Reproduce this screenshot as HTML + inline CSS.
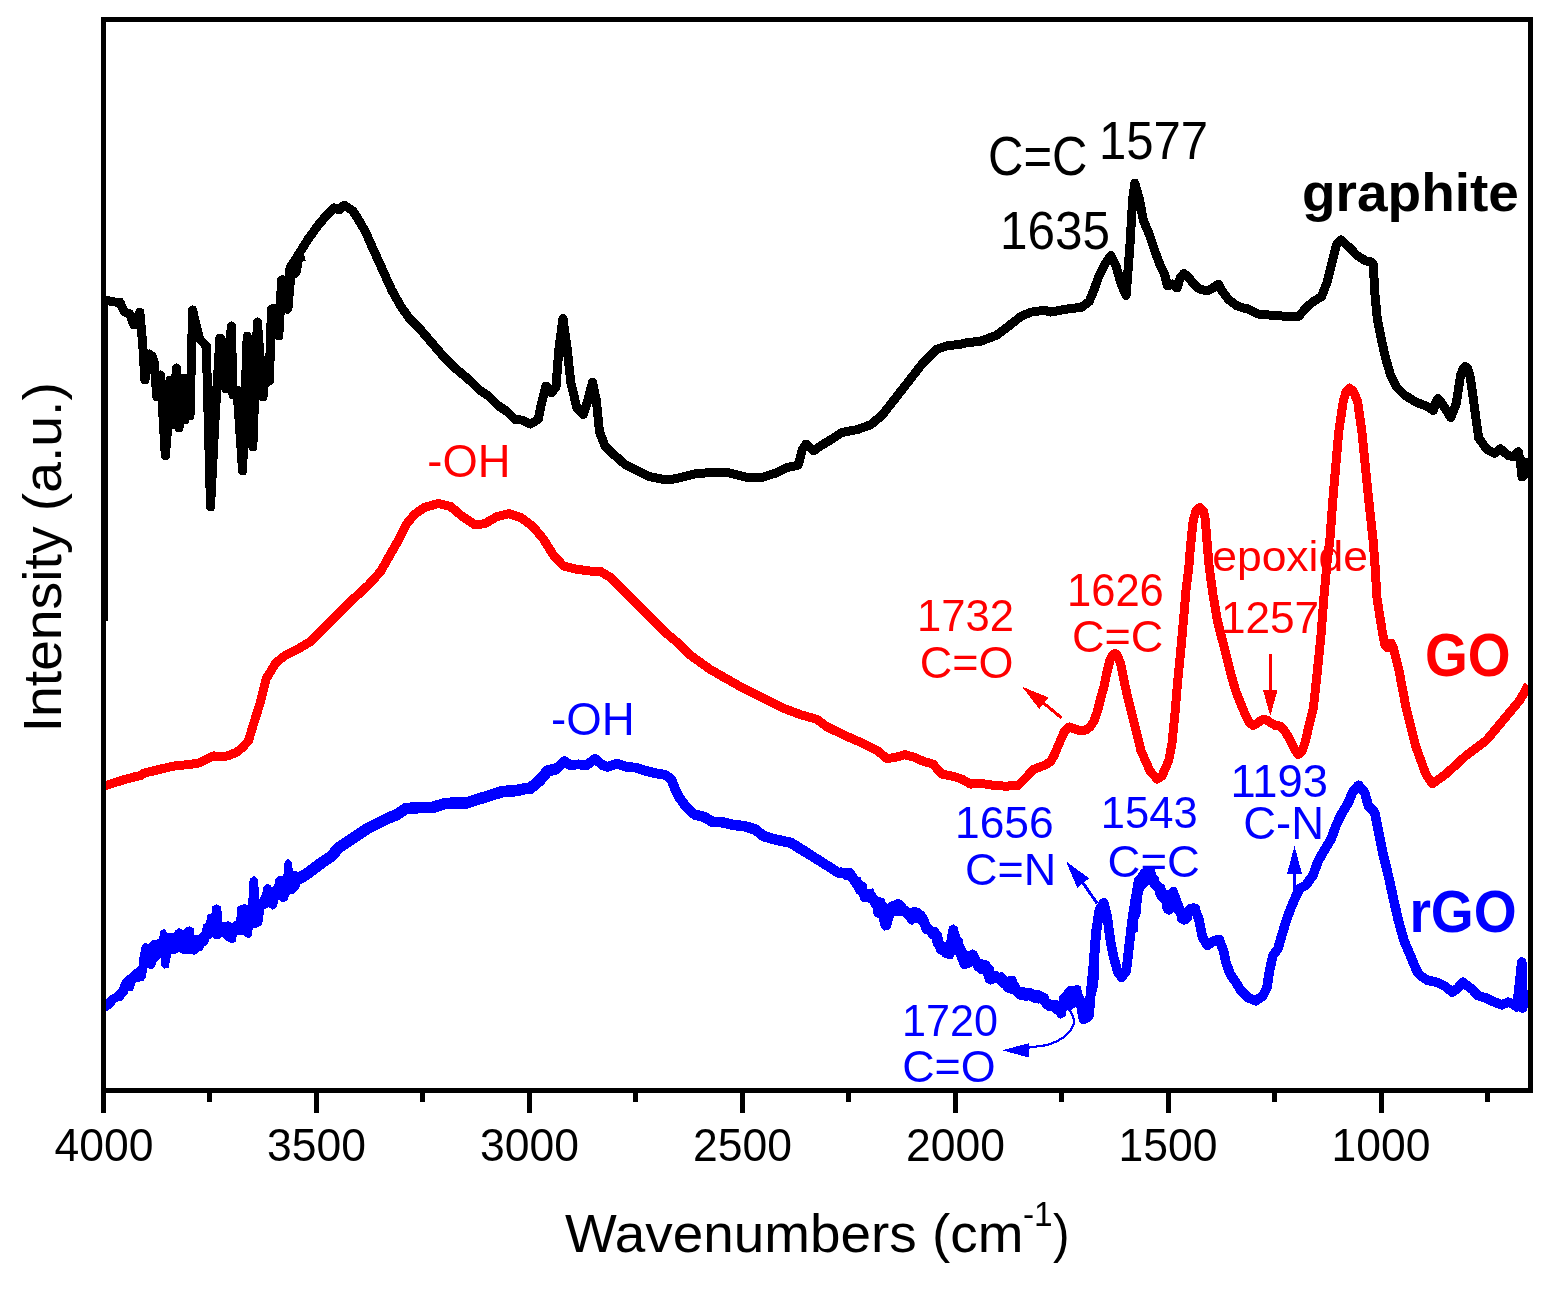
<!DOCTYPE html><html><head><meta charset="utf-8"><title>FTIR spectra</title><style>html,body{margin:0;padding:0;background:#fff;}svg{display:block;}</style></head><body>
<svg width="1552" height="1290" viewBox="0 0 1552 1290">
<rect x="0" y="0" width="1552" height="1290" fill="#fff"/>
<g fill="none" stroke-linejoin="round" stroke-linecap="butt" shape-rendering="crispEdges">
<polyline points="103.0,300.0 106.6,300.5 114.7,302.0 119.9,302.0 124.3,312.0 129.5,313.7 133.9,325.0 139.8,312.0 142.7,344.0 144.9,380.0 149.3,354.0 152.0,356.0 154.5,363.0 156.7,397.0 160.4,375.0 162.0,400.0 165.3,456.0 168.0,425.0 170.0,380.0 172.5,425.0 176.4,368.0 179.0,428.0 182.0,378.0 185.0,420.0 188.0,378.0 190.0,416.0 192.6,310.0 196.0,325.0 199.5,339.0 206.3,346.0 210.5,507.0 215.0,420.0 219.9,338.0 221.2,339.0 225.8,389.0 231.4,326.0 233.0,395.0 237.0,390.0 242.6,471.0 247.2,336.0 252.8,447.0 257.4,322.0 263.0,397.0 265.0,360.0 269.5,381.0 271.4,309.0 278.8,336.0 281.6,280.0 288.0,308.0 290.0,268.0 298.6,254.4 307.9,239.5 317.2,226.5 326.5,215.3 334.0,207.9 339.5,209.8 344.2,205.1 352.6,210.7 358.1,219.0 365.6,232.0 373.0,248.8 382.3,269.3 391.6,289.8 400.9,306.5 410.2,319.5 421.4,330.7 432.6,343.7 443.7,356.7 454.9,367.9 466.0,377.2 470.0,380.6 479.3,389.9 488.6,396.1 497.9,405.4 507.2,411.6 515.0,419.4 522.7,420.2 530.5,424.0 538.2,419.4 542.1,400.8 546.0,386.0 551.4,393.0 556.0,386.8 559.1,346.5 563.0,318.6 566.9,346.5 570.8,382.2 577.0,408.5 583.2,414.7 587.8,400.8 592.5,382.2 596.4,400.8 599.5,431.8 604.9,445.7 614.2,455.0 625.0,464.3 637.4,470.5 649.8,476.7 665.3,479.8 675.5,478.8 694.8,474.0 714.1,472.1 729.6,473.0 745.0,477.0 760.5,477.9 776.0,473.0 787.6,467.3 798.2,465.3 802.1,449.9 806.0,444.0 813.7,450.8 820.4,446.0 830.1,440.2 841.7,432.5 857.2,429.6 870.7,424.7 882.3,415.0 895.8,397.7 909.4,380.3 922.9,362.9 936.4,349.3 948.0,345.5 959.6,344.5 965.5,343.0 980.9,341.1 996.4,335.3 1008.0,326.6 1021.5,316.0 1031.2,312.1 1044.7,310.2 1050.5,312.1 1066.0,309.2 1081.5,307.3 1089.2,301.5 1094.0,289.9 1098.8,276.3 1104.6,264.7 1110.9,255.5 1116.2,266.7 1121.1,284.0 1126.1,295.5 1129.8,247.3 1132.7,199.0 1134.8,183.0 1139.4,199.0 1143.3,220.3 1149.1,233.8 1154.9,251.2 1160.7,266.7 1164.6,274.4 1167.5,286.0 1172.3,284.0 1177.1,287.9 1180.0,278.3 1183.9,273.4 1188.7,277.3 1193.6,284.0 1199.4,288.9 1207.1,290.8 1212.9,287.9 1218.7,284.0 1222.6,291.8 1228.4,299.5 1236.1,305.3 1243.8,308.2 1248.4,309.0 1258.8,314.2 1271.4,315.2 1286.0,316.3 1298.6,316.3 1307.0,306.9 1313.3,301.6 1321.6,296.4 1326.9,282.8 1332.1,261.9 1336.3,245.1 1341.1,239.9 1348.9,247.2 1357.2,255.6 1365.6,260.8 1370.8,261.9 1373.3,264.0 1374.7,291.9 1377.4,319.8 1381.6,340.7 1385.8,358.8 1390.7,375.6 1396.3,386.7 1404.7,395.1 1415.8,402.1 1427.0,406.3 1433.3,410.5 1436.0,402.0 1438.1,398.5 1440.5,401.0 1443.7,406.3 1450.7,417.5 1456.3,403.5 1460.5,375.6 1463.0,368.5 1465.3,366.5 1467.8,369.0 1470.2,377.0 1473.0,396.5 1475.8,417.5 1478.7,437.9 1486.3,448.8 1494.4,453.4 1500.4,448.8 1508.0,455.3 1513.4,456.9 1518.3,451.7 1520.5,463.4 1522.1,477.0 1524.8,474.3 1527.5,458.0" stroke="#000" stroke-width="9"/>
<polygon points="262.4,350.0 263.6,357.9 265.5,353.0 267.4,339.3 268.6,322.0 269.8,307.1 272.9,304.0 276.7,304.0 277.9,299.6 279.1,276.7 282.8,274.8 286.6,276.7 287.8,266.1 290.3,263.0 294.0,262.4 297.1,252.0 302.0,248.0 305.8,260.5 302.7,261.2 300.2,274.8 295.2,278.5 293.4,297.1 292.1,309.6 288.4,313.9 284.7,313.3 282.8,331.9 279.8,336.8 275.4,338.1 274.2,351.7 273.6,372.8 272.3,382.8 268.0,387.7 266.1,395.0 263.0,392.0" fill="#000" stroke="none"/>
<polyline points="104.0,786.0 111.6,783.7 123.2,779.9 134.8,776.8 141.0,775.5 144.1,773.0 152.2,771.2 163.8,768.3 175.4,765.7 187.0,764.8 198.6,763.1 206.7,759.0 213.7,755.9 220.6,757.0 227.6,755.9 236.9,752.1 242.7,747.2 248.5,740.8 253.8,723.2 260.0,703.3 266.3,678.5 276.2,662.4 286.1,654.9 298.5,648.7 310.9,641.3 323.3,628.9 338.2,614.0 353.1,599.1 368.0,585.5 380.4,571.8 390.3,554.4 398.1,540.8 406.1,524.7 414.2,514.6 424.3,507.5 438.4,503.5 450.5,506.5 462.6,516.6 474.7,524.7 484.8,523.7 496.9,516.6 509.0,513.6 521.0,517.6 533.1,526.7 543.2,538.8 553.3,554.9 563.4,566.0 575.5,569.0 589.6,571.0 599.7,571.0 609.8,577.1 621.9,589.2 636.0,603.3 650.1,617.4 664.2,631.5 676.3,641.6 688.4,653.7 693.9,657.8 710.2,669.4 726.4,678.7 745.0,689.2 763.5,698.4 782.1,707.7 800.6,714.7 816.9,719.3 826.1,726.3 842.4,734.4 860.9,742.5 877.7,750.9 886.8,758.6 895.8,757.3 904.8,754.7 913.8,757.1 924.1,761.6 933.1,764.1 937.0,768.7 942.2,774.1 953.8,776.4 962.8,779.6 970.5,784.1 979.5,783.1 992.4,785.2 1005.3,786.2 1018.2,785.4 1024.6,779.0 1033.7,769.3 1044.0,765.4 1050.4,762.0 1054.3,755.1 1059.4,742.9 1064.2,731.9 1069.1,727.0 1075.0,729.0 1080.7,731.0 1086.0,730.0 1090.0,727.0 1094.0,721.0 1097.5,711.0 1101.0,697.0 1104.0,686.5 1107.0,672.0 1110.0,660.0 1112.5,655.0 1115.0,653.4 1117.5,655.5 1120.5,663.3 1127.0,694.7 1134.0,722.6 1140.9,750.5 1150.2,771.4 1157.2,779.0 1162.0,776.0 1165.5,768.0 1168.7,760.5 1171.8,745.0 1174.9,714.0 1177.5,683.0 1180.6,652.0 1183.4,621.0 1186.0,590.0 1188.9,566.8 1190.2,549.7 1191.9,532.6 1193.3,520.0 1196.0,511.0 1199.9,507.5 1203.6,511.0 1205.4,520.0 1206.3,532.6 1207.7,549.7 1209.2,566.8 1211.5,583.8 1213.0,595.0 1217.5,621.0 1225.3,652.0 1233.3,683.0 1236.3,692.3 1242.4,707.9 1246.0,716.0 1249.0,722.0 1252.9,725.4 1256.5,724.0 1260.0,721.0 1263.4,719.4 1267.0,720.0 1270.0,722.5 1275.2,725.4 1280.0,726.0 1283.5,729.0 1287.8,736.0 1291.3,742.8 1294.8,749.8 1298.3,754.5 1302.0,751.0 1305.0,743.0 1309.8,722.0 1313.3,708.8 1317.3,671.6 1321.1,634.4 1323.9,597.2 1327.3,560.0 1329.8,540.5 1333.3,494.0 1338.7,432.0 1343.3,401.0 1346.0,392.0 1349.5,388.0 1353.0,391.0 1357.6,401.0 1361.9,432.0 1368.1,494.0 1373.1,540.5 1374.7,560.0 1376.9,597.2 1382.1,630.7 1385.0,645.0 1388.0,648.0 1391.0,643.0 1393.5,648.0 1399.2,671.6 1406.3,708.8 1415.6,746.0 1425.8,774.0 1432.3,784.0 1446.7,773.3 1466.7,755.0 1486.7,740.0 1503.3,720.0 1520.0,700.0 1528.3,685.0" stroke="#f00" stroke-width="9"/>
<polyline points="296.0,876.0 299.7,878.5 309.3,872.1 322.2,862.4 331.9,856.0 338.3,847.9 348.0,841.5 357.7,835.0 367.3,828.6 377.0,823.8 386.6,818.9 396.3,814.9 406.0,808.5 418.9,807.7 431.8,807.7 444.6,803.6 457.5,802.8 467.2,802.8 476.9,799.6 489.7,795.6 502.6,791.5 515.5,790.7 526.8,788.3 530.0,788.6 539.7,780.5 547.7,770.9 557.4,768.5" stroke="#00f" stroke-width="11.5"/>
<polyline points="539.7,780.5 547.7,770.9 557.4,768.5 564.6,761.2 570.3,765.2 578.3,764.4 586.4,765.2 595.2,758.8 602.5,765.2 607.3,766.9 617.0,763.6 626.6,766.9 636.3,767.7 646.0,770.9 655.6,773.3 665.3,774.9 671.0,778.9 675.0,788.6 679.8,798.3 686.3,807.1 694.3,814.4 704.0,816.8 712.0,821.6" stroke="#00f" stroke-width="9.8"/>
<polyline points="694.3,814.4 704.0,816.8 712.0,821.6 723.3,822.4 733.0,824.8 745.9,826.5 755.5,829.7 763.6,836.1 771.6,838.5 780.3,840.6 790.6,842.7 807.1,853.0" stroke="#00f" stroke-width="10.5"/>
<polyline points="790.6,842.7 807.1,853.0 823.6,863.3 838.0,872.6 849.4,872.6 856.6,883.9 863.8,894.2 871.0,895.3 877.2,906.6 882.4,913.8 886.5,924.1 891.6,906.6 898.9,904.5 906.1,912.8 912.3,919.0 917.4,912.8 922.6,917.9 926.7,928.2 935.0,933.4 939.1,943.7 945.3,952.0 949.4,954.0 953.1,930.3 956.6,941.6 959.7,952.0 964.8,964.3 973.1,955.1 978.2,966.4 985.5,965.4 989.6,978.8 996.8,976.7 1003.0,982.9 1011.2,980.8 1017.4,991.1 1027.7,993.2 1038.0,996.3 1040.0,996.6 1046.7,1003.3 1053.4,1005.9 1060.9,1012.6 1064.3,998.3 1070.2,991.6 1076.0,991.6 1080.2,1000.8 1083.6,1019.3 1088.6,1012.6 1091.1,990.8 1093.6,965.6 1096.1,932.1 1099.5,910.4 1103.7,902.8" stroke="#00f" stroke-width="10"/>
<polyline points="1093.6,965.6 1096.1,932.1 1099.5,910.4 1103.7,902.8 1107.0,915.4 1110.4,940.5 1113.7,957.3 1117.9,972.4 1121.8,977.4 1126.3,970.7 1128.8,948.9 1132.1,920.4 1135.5,898.6 1138.8,880.2 1143.9,875.2 1149.7,878.5 1157.3,886.9 1164.0,895.3 1168.2,908.7 1173.2,891.9 1177.4,903.7 1182.4,915.4 1184.9,918.7 1190.0,908.7 1195.0,908.7 1199.2,920.4 1202.5,937.2 1207.5,945.5 1214.2,940.5 1219.3,939.7 1223.4,950.6 1226.0,962.3 1230.1,974.0 1236.0,982.4 1241.0,990.8 1247.7,997.5 1256.1,1000.8 1262.8,995.8 1267.0,987.4 1269.5,970.7 1272.9,955.6 1277.9,948.9 1281.2,937.2 1286.3,920.4 1291.3,907.0 1296.3,895.3 1299.7,888.6 1306.1,885.0 1313.2,874.9 1318.2,860.8 1325.3,848.7 1331.3,838.6 1336.4,824.5 1342.4,812.4 1348.5,802.3 1352.5,792.3 1358.5,785.2 1364.6,792.3 1368.6,806.4 1374.7,812.4 1378.7,832.6 1382.7,852.7 1384.6,860.0 1389.4,880.2 1393.7,900.3 1398.4,920.5 1404.0,940.6 1409.0,952.2 1412.5,960.8 1417.4,972.0 1421.0,976.0 1427.0,980.0 1437.9,982.6 1445.1,986.4 1452.3,992.1 1457.7,988.2 1463.1,982.4 1467.6,986.0 1473.0,990.0 1477.5,995.5 1485.7,997.9 1494.7,1002.2 1501.9,1004.8 1508.2,1002.2 1513.6,1004.2 1517.0,1007.0 1521.8,962.0 1522.6,1008.0 1525.0,995.0 1529.0,993.0" stroke="#00f" stroke-width="9.6"/>
<polygon points="103.1,1001.6 110.7,994.9 113.8,993.6 118.7,988.7 121.8,981.1 124.5,978.4 128.1,974.9 134.3,969.5 138.8,966.0 139.2,958.4 140.1,953.5 141.9,945.5 144.6,943.2 149.0,943.7 150.8,941.4 152.6,940.1 157.0,939.7 159.3,938.3 160.2,930.7 164.2,929.0 167.7,933.0 174.0,933.4 175.3,930.3 178.9,928.1 183.3,929.9 186.5,927.2 189.6,926.3 193.6,928.5 194.0,935.2 198.8,935.3 201.8,931.9 203.1,924.2 206.1,923.0 207.4,914.8 211.6,913.1 212.5,906.3 216.3,904.2 220.6,906.3 221.5,911.4 222.3,922.1 225.3,921.7 229.1,921.2 231.7,923.4 233.4,921.7 236.0,921.2 236.8,914.8 237.2,907.2 240.2,905.0 244.1,904.2 247.9,905.0 248.8,895.2 249.6,879.0 253.9,876.0 257.7,879.0 258.6,888.4 259.4,899.1 262.4,892.7 263.3,886.7 266.7,884.1 270.1,884.6 272.2,887.5 274.8,883.7 275.6,878.2 279.0,876.0 282.9,876.5 284.2,870.5 284.6,861.1 288.0,859.0 291.4,861.1 293.1,871.3 296.5,871.3 300.0,872.2 300.0,886.7 294.4,893.5 289.7,894.4 287.2,900.3 282.9,902.5 278.2,899.5 276.9,907.2 272.6,909.7 268.4,907.2 264.1,909.7 263.3,916.6 262.0,925.1 257.3,927.6 253.0,927.6 251.3,937.0 247.5,938.3 242.8,934.5 239.4,935.3 236.8,935.3 235.5,941.7 231.7,943.4 227.4,941.3 222.3,937.0 218.0,939.6 214.6,938.7 212.9,937.0 209.5,939.2 207.8,943.9 204.4,946.4 202.7,950.3 199.3,951.5 195.0,954.9 192.7,954.4 188.2,953.9 184.2,954.4 179.3,952.1 175.8,953.5 171.3,953.5 170.4,958.8 168.6,967.7 164.2,968.6 161.5,966.0 160.6,957.9 156.6,961.5 154.4,967.7 150.8,969.5 146.8,967.7 146.3,976.6 143.7,980.7 140.1,981.6 136.5,982.4 135.2,983.8 133.0,990.5 128.1,990.9 127.6,993.6 121.4,1001.2 117.4,1001.6 116.0,1002.9 111.6,1007.8 108.0,1010.6 103.1,1011.0" fill="#00f" stroke="none"/>
<polygon points="1130.0,916.3 1131.1,913.0 1132.2,908.7 1133.0,896.7 1134.1,892.4 1134.9,889.1 1136.0,883.7 1137.1,875.6 1138.1,873.4 1141.4,869.1 1145.7,868.5 1155.0,868.5 1155.8,873.7 1158.8,877.2 1159.0,880.7 1160.9,882.6 1164.7,884.8 1165.8,889.7 1168.3,890.2 1171.2,887.0 1175.6,887.0 1177.7,890.2 1178.6,893.5 1178.8,903.8 1181.5,909.7 1184.3,910.8 1186.2,906.0 1189.1,904.0 1194.6,903.2 1197.8,904.3 1200.0,907.0 1200.0,925.0 1196.5,924.0 1194.8,922.8 1193.7,915.7 1192.4,916.3 1191.9,919.5 1187.5,923.9 1183.2,924.9 1177.2,921.0 1176.7,916.3 1174.0,911.9 1171.8,913.5 1169.1,914.9 1164.7,913.0 1162.6,909.7 1162.0,903.2 1159.3,901.1 1156.0,896.7 1155.0,892.4 1153.3,888.6 1149.0,884.8 1146.3,887.5 1143.8,889.1 1143.0,894.0 1141.7,897.3 1141.4,907.6 1140.3,915.7 1138.7,918.4 1138.1,921.7 1137.6,932.0 1131.0,932.0" fill="#00f" stroke="none"/>
<polygon points="840.0,867.2 846.2,868.2 851.3,868.2 855.5,872.9 855.5,876.0 860.6,877.0 861.6,880.1 866.8,884.2 867.3,888.9 873.0,888.4 875.1,893.0 878.1,896.6 884.3,898.7 885.4,902.3 887.4,904.3 889.5,902.3 893.6,901.2 896.2,899.2 901.9,899.7 903.9,904.3 908.0,906.4 910.1,908.5 912.2,907.4 917.3,907.4 919.4,909.5 924.5,911.5 925.6,915.7 927.6,921.9 930.7,924.9 932.8,926.5 936.9,927.0 939.0,930.1 942.1,934.2 943.1,940.4 945.2,942.5 947.2,939.4 948.2,930.1 949.3,926.0 953.4,924.4 957.5,927.0 958.0,934.2 959.6,936.3 962.7,939.4 963.7,944.5 965.8,948.7 967.8,951.8 969.9,950.7 973.0,949.2 977.1,951.8 978.1,956.9 980.2,959.0 986.4,960.0 989.5,963.1 993.6,967.2 994.6,971.3 997.7,971.3 1000.0,973.4 1000.0,984.7 995.7,982.7 991.5,984.2 987.4,981.6 985.9,974.4 984.3,973.4 979.2,974.4 978.1,972.4 974.0,969.3 973.0,966.2 970.9,967.2 967.8,968.2 962.7,968.2 960.1,964.6 959.6,957.9 956.5,954.3 954.9,950.7 954.4,955.9 952.4,959.0 949.3,959.5 947.2,957.9 943.1,957.4 941.0,954.8 936.9,952.8 935.4,948.7 932.8,944.5 931.8,939.4 928.7,937.8 927.6,933.7 924.5,933.7 922.0,931.1 919.9,925.5 918.4,923.4 915.3,922.9 912.2,924.9 909.1,923.9 907.0,921.3 906.0,918.2 902.9,915.7 897.7,915.7 891.5,916.2 891.0,921.9 890.5,928.0 888.5,930.1 884.3,930.6 881.2,928.0 879.7,924.4 879.2,918.8 875.1,916.7 873.5,913.6 873.0,905.4 870.9,903.3 866.8,902.3 862.7,902.3 859.6,899.2 859.6,895.1 856.5,894.0 854.9,890.9 854.4,887.8 851.3,884.7 848.2,880.6 846.2,880.1 844.1,879.6 842.1,878.0 840.0,877.5" fill="#00f" stroke="none"/>
<polygon points="990.0,963.9 993.5,967.8 993.9,971.0 997.8,971.0 999.6,973.1 1000.3,972.0 1002.8,972.0 1005.9,975.2 1007.4,977.7 1009.1,977.4 1010.2,975.9 1014.8,975.9 1016.9,979.1 1016.9,983.7 1018.0,985.9 1021.2,988.7 1028.3,988.7 1031.8,988.0 1033.9,989.8 1038.9,990.1 1041.7,991.2 1043.9,992.6 1047.8,994.0 1048.8,996.5 1050.2,1000.8 1055.9,1000.0 1058.7,1000.8 1059.1,996.1 1062.3,994.0 1065.8,994.0 1066.2,989.1 1068.0,986.2 1072.9,986.2 1076.5,984.8 1078.6,985.2 1081.1,986.2 1082.1,994.7 1082.8,997.9 1085.0,998.3 1086.0,1000.0 1086.4,992.2 1087.8,988.0 1088.9,985.9 1089.2,979.1 1089.9,962.1 1091.3,960.0 1099.1,960.0 1098.8,977.7 1097.7,986.9 1096.3,993.0 1094.9,993.3 1094.5,1008.2 1093.8,1016.7 1092.1,1019.5 1089.6,1021.7 1087.1,1023.1 1084.3,1024.5 1081.4,1023.8 1079.3,1020.9 1078.2,1014.6 1077.9,1007.1 1076.1,1007.1 1074.3,1007.8 1072.6,1008.9 1070.8,1010.3 1068.0,1010.0 1065.8,1010.0 1065.8,1015.3 1063.7,1017.4 1060.9,1018.8 1058.0,1017.8 1056.6,1014.9 1052.0,1011.0 1047.4,1010.7 1042.1,1006.8 1041.0,1003.2 1038.2,1003.6 1033.9,1002.9 1031.8,1001.8 1029.0,1000.4 1025.4,1000.8 1019.1,999.7 1016.9,998.6 1014.8,996.1 1012.3,994.0 1008.1,993.0 1004.9,991.2 1003.1,989.8 1002.8,986.9 999.2,984.8 998.9,982.7 995.3,982.0 993.9,983.7 991.4,984.5 990.0,984.5" fill="#00f" stroke="none"/>
</g>
<g fill="#000">
<rect x="101" y="17" width="1432" height="5"/>
<rect x="101" y="1088" width="1432" height="5"/>
<rect x="101" y="17" width="5" height="1076"/>
<rect x="1528" y="17" width="5" height="1076"/>
<rect x="101" y="300" width="7" height="321"/>
<rect x="101.0" y="1093" width="5" height="20"/>
<rect x="314.0" y="1093" width="5" height="20"/>
<rect x="527.0" y="1093" width="5" height="20"/>
<rect x="740.0" y="1093" width="5" height="20"/>
<rect x="953.0" y="1093" width="5" height="20"/>
<rect x="1166.0" y="1093" width="5" height="20"/>
<rect x="1379.0" y="1093" width="5" height="20"/>
<rect x="207" y="1093" width="5" height="9"/>
<rect x="420" y="1093" width="5" height="9"/>
<rect x="633" y="1093" width="5" height="9"/>
<rect x="846" y="1093" width="5" height="9"/>
<rect x="1059" y="1093" width="5" height="9"/>
<rect x="1272" y="1093" width="5" height="9"/>
<rect x="1485" y="1093" width="5" height="9"/>
</g>
<g shape-rendering="crispEdges">
<line x1="1043.5" y1="703" x2="1061.7" y2="718" stroke="#f00" stroke-width="3"/>
<polygon points="1022,686.6 1048.5,697.5 1039.3,709" fill="#f00"/>
<rect x="1269" y="654" width="3" height="37" fill="#f00"/>
<polygon points="1263,690 1277.5,690 1270.3,716" fill="#f00"/>
<line x1="1083" y1="883" x2="1097.2" y2="903.5" stroke="#00f" stroke-width="3"/>
<polygon points="1066,861.2 1089.1,878.4 1077.2,887.9" fill="#00f"/>
<rect x="1293.2" y="873" width="2.8" height="21" fill="#00f"/>
<polygon points="1294.5,845.9 1302,874 1287,874" fill="#00f"/>
<path d="M1068.6,1009 Q1076,1018 1073,1026 Q1066,1040 1045.6,1045.3 L1029,1047.5" fill="none" stroke="#00f" stroke-width="2.2"/>
<polygon points="1002,1050.2 1029.4,1043.2 1029.4,1057.7" fill="#00f"/>
</g>
<g font-family="'Liberation Sans', Arial, sans-serif">
<text font-size="44" fill="#000" transform="matrix(1.0105,0,0,1.0323,54.49,1161.00)">4000</text>
<text font-size="44" fill="#000" transform="matrix(1.0105,0,0,1.0323,266.98,1161.00)">3500</text>
<text font-size="44" fill="#000" transform="matrix(1.0105,0,0,1.0323,479.98,1161.00)">3000</text>
<text font-size="44" fill="#000" transform="matrix(1.0105,0,0,1.0323,692.98,1161.00)">2500</text>
<text font-size="44" fill="#000" transform="matrix(1.0105,0,0,1.0323,905.98,1161.00)">2000</text>
<text font-size="44" fill="#000" transform="matrix(1.0105,0,0,1.0323,1118.48,1161.00)">1500</text>
<text font-size="44" fill="#000" transform="matrix(1.0105,0,0,1.0323,1331.48,1161.00)">1000</text>
<text font-size="55" fill="#000000" transform="matrix(0.9978,0,0,0.9769,565.00,1252.08)">Wavenumbers (cm</text>
<text font-size="33" fill="#000000" transform="matrix(1.0122,0,0,1.0435,1022.89,1226.00)">-1</text>
<text font-size="55" fill="#000000" transform="matrix(0.9071,0,0,0.9788,1053.09,1252.05)">)</text>
<text font-size="52" fill="#000000" transform="matrix(0,-1.0629,1.0429,0,61.43,732.31)">Intensity (a.u.)</text>
<text font-size="48" fill="#000000" transform="matrix(1.0215,0,0,1.1455,988.06,174.90)">C=C</text>
<text font-size="49" fill="#000000" transform="matrix(1.0019,0,0,1.0879,1098.89,159.00)">1577</text>
<text font-size="49" fill="#000000" transform="matrix(1.0097,0,0,1.0939,999.96,248.90)">1635</text>
<text font-size="55" font-weight="bold" fill="#000000" transform="matrix(1.0005,0,0,0.9904,1301.90,210.72)">graphite</text>
<text font-size="45" fill="#ff0000" transform="matrix(1.0091,0,0,1.0419,427.28,477.30)">-OH</text>
<text font-size="44" fill="#ff0000" transform="matrix(0.9914,0,0,1.0290,916.93,630.90)">1732</text>
<text font-size="44" fill="#ff0000" transform="matrix(1.0227,0,0,1.0290,919.85,677.90)">C=O</text>
<text font-size="44" fill="#ff0000" transform="matrix(0.9903,0,0,1.0323,1066.93,605.70)">1626</text>
<text font-size="44" fill="#ff0000" transform="matrix(1.0235,0,0,1.0290,1071.95,651.60)">C=C</text>
<text font-size="44" fill="#ff0000" transform="matrix(1.0107,0,0,0.9805,1212.18,570.68)">epoxide</text>
<text font-size="44" fill="#ff0000" transform="matrix(1.0043,0,0,0.9968,1220.89,633.10)">1257</text>
<text font-size="55" font-weight="bold" fill="#ff0000" transform="matrix(1.0012,0,0,1.1026,1425.00,675.80)">GO</text>
<text font-size="45" fill="#0000ff" transform="matrix(1.0156,0,0,1.0226,550.97,734.60)">-OH</text>
<text font-size="44" fill="#0000ff" transform="matrix(1.0086,0,0,1.0129,954.97,837.90)">1656</text>
<text font-size="44" fill="#0000ff" transform="matrix(1.0226,0,0,1.0290,965.05,884.90)">C=N</text>
<text font-size="44" fill="#0000ff" transform="matrix(0.9892,0,0,1.0161,1100.83,827.90)">1543</text>
<text font-size="44" fill="#0000ff" transform="matrix(1.0341,0,0,1.0161,1107.53,876.90)">C=C</text>
<text font-size="44" fill="#0000ff" transform="matrix(1.0300,0,0,1.0387,1230.41,797.20)">1193</text>
<text font-size="44" fill="#0000ff" transform="matrix(1.0329,0,0,1.0387,1243.23,838.70)">C-N</text>
<text font-size="44" fill="#0000ff" transform="matrix(0.9817,0,0,1.0258,901.95,1035.70)">1720</text>
<text font-size="44" fill="#0000ff" transform="matrix(1.0193,0,0,1.0161,902.16,1081.70)">C=O</text>
<text font-size="55" font-weight="bold" fill="#0000ff" transform="matrix(1.0040,0,0,1.0842,1409.38,931.80)">rGO</text>
</g>
</svg></body></html>
